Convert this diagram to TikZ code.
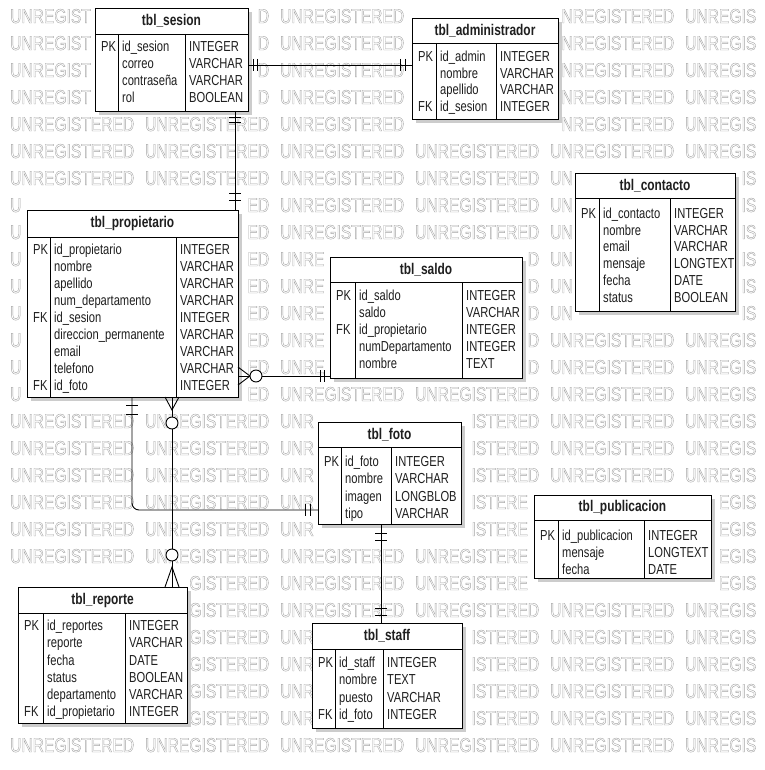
\documentclass[tikz,border=0pt]{standalone}
\usepackage{fontspec}
\setmainfont[FakeStretch=0.77]{Liberation Sans}
\newfontfamily\wmfont[FakeStretch=0.78]{Liberation Sans}
\usetikzlibrary{fit}
\definecolor{wmgray}{gray}{0.64}
\definecolor{shadowc}{gray}{0.80}
\definecolor{txt}{gray}{0.12}
% outlined (stroked) watermark glyph
\newcommand\outl[1]{\special{pdf:literal direct 1 Tr 0.4 w}#1\special{pdf:literal direct 0 Tr 0.4 w}}
% hidden-letter test against the table boxes (l/t/r/b)
\newif\ifhid
\def\chkend{\chkend}
\def\boxlist{98/11/249/112,415/21/559/120,578/176/736/312,30/213/239/398,333/260/523/379,321/425/462/525,537/498/712/579,21/590/188/724,315/626/463/729,}
\def\chkone#1/#2/#3/#4,{\ifx\chkend#1\else
  \ifdim\rx pt>#1pt \ifdim\lx pt<#3pt \ifdim\ty pt<#4pt \ifdim\bb pt>#2pt \global\hidtrue\fi\fi\fi\fi
  \expandafter\chkone\fi}
\def\chkall{\global\hidfalse\ifdim\rx pt>763pt \global\hidtrue\fi
  \expandafter\chkone\boxlist\chkend/0/0/0,}
\tikzset{
  tbox/.style={draw=black, line width=0.9pt, fill=white, inner sep=0pt, outer sep=0pt},
  ttl/.style={font=\fontsize{15.5}{16}\selectfont\bfseries, inner sep=0pt, text=txt},
  cell/.style={font=\fontsize{14.5}{15}\selectfont, inner sep=0pt, anchor=base west, text=txt},
  rel/.style={draw=black, line width=0.9pt},
  wm/.style={font=\wmfont\fontsize{20}{20}\selectfont, text=wmgray, anchor=base west, inner sep=0pt},
  ring/.style={draw=black, line width=0.9pt, fill=white},
}
% #1 name, #2 l, #3 t, #4 r, #5 b, #6 header bottom, #7 sep1, #8 sep2, #9 title
\newcommand\ertab[9]{%
  \fill[shadowc] (#2+4,#3+4) rectangle (#4+4,#5+4);
  \node[tbox, fit={(#2,#3) (#4,#5)}] (#1) {};
  \draw[line width=0.9pt] (#2,#6) -- (#4,#6) (#7,#6) -- (#7,#5) (#8,#6) -- (#8,#5);
  \node[ttl] (#1-title) at ({(#2+#4)/2},{(#3+#6)/2}) {#9};
  \def\tabname{#1}\def\cpk{#2+6}\def\cnm{#7+4}\def\cty{#8+4}%
}
% #1 y (row centre), #2 key, #3 field, #4 type
\newcommand\errow[4]{%
  \if\relax\detokenize{#2}\relax\else
    \node[cell] (\tabname-#1-k) at (\cpk,#1+5) {#2};
  \fi
  \node[cell] (\tabname-#1-n) at (\cnm,#1+5) {#3};
  \node[cell] (\tabname-#1-t) at (\cty,#1+5) {#4};
}
\newcommand\barV[2]{\draw[rel] (#1) ++(#2) ++(0,-6) -- ++(0,12);}
\newcommand\barH[2]{\draw[rel] (#1) ++(#2) ++(-6,0) -- ++(12,0);}
\begin{document}
\begin{tikzpicture}[x=1pt,y=-1pt]
\useasboundingbox (0,0) rectangle (764,770);
% watermark, letter by letter, only where not covered by a table
\foreach \k in {0,...,27} {
  \pgfmathsetmacro\by{23+27*\k}
  \pgfmathsetmacro\bb{\by+3}
  \pgfmathsetmacro\ty{\by-14.5}
  \foreach \j in {0,...,5} {
    \foreach \ch/\off/\w [count=\i] in {U/0/11.26, N/11.26/11.26, R/22.53/11.26, E/33.79/10.41, G/44.19/12.14, I/56.33/4.34, S/60.67/10.41, T/71.07/9.53, E/80.61/10.41, R/91.01/11.26, E/102.27/10.41, D/112.68/11.26} {
      \pgfmathsetmacro\lx{10+135*\j+\off}
      \pgfmathsetmacro\rx{\lx+\w}
      \chkall
      \ifhid\else \node[wm] (w\k-\j-\i) at (\lx,\by) {\outl{\ch}}; \fi
    }
  }
}

% tbl_sesion
\ertab{sesion}{95}{8}{248}{111}{34}{118}{185}{tbl\_sesion}
\errow{47}{PK}{id\_sesion}{INTEGER}
\errow{64}{}{correo}{VARCHAR}
\errow{81}{}{contraseña}{VARCHAR}
\errow{98}{}{rol}{BOOLEAN}

% tbl_administrador
\ertab{admin}{412}{18}{558}{119}{43}{436}{496}{tbl\_administrador}
\errow{57}{PK}{id\_admin}{INTEGER}
\errow{73.5}{}{nombre}{VARCHAR}
\errow{90}{}{apellido}{VARCHAR}
\errow{106.5}{FK}{id\_sesion}{INTEGER}

% tbl_contacto
\ertab{contacto}{575}{173}{735}{311}{198}{599}{670}{tbl\_contacto}
\errow{213}{PK}{id\_contacto}{INTEGER}
\errow{230}{}{nombre}{VARCHAR}
\errow{246.5}{}{email}{VARCHAR}
\errow{263}{}{mensaje}{LONGTEXT}
\errow{280}{}{fecha}{DATE}
\errow{297}{}{status}{BOOLEAN}

% tbl_propietario
\ertab{prop}{27}{210}{238}{397}{237}{50}{176}{tbl\_propietario}
\errow{249}{PK}{id\_propietario}{INTEGER}
\errow{266}{}{nombre}{VARCHAR}
\errow{283}{}{apellido}{VARCHAR}
\errow{300}{}{num\_departamento}{VARCHAR}
\errow{317}{FK}{id\_sesion}{INTEGER}
\errow{334}{}{direccion\_permanente}{VARCHAR}
\errow{351}{}{email}{VARCHAR}
\errow{368}{}{telefono}{VARCHAR}
\errow{385}{FK}{id\_foto}{INTEGER}

% tbl_saldo
\ertab{saldo}{330}{257}{522}{378}{282}{355}{462}{tbl\_saldo}
\errow{295}{PK}{id\_saldo}{INTEGER}
\errow{312}{}{saldo}{VARCHAR}
\errow{329}{FK}{id\_propietario}{INTEGER}
\errow{346}{}{numDepartamento}{INTEGER}
\errow{363}{}{nombre}{TEXT}

% tbl_foto
\ertab{foto}{318}{422}{461}{524}{447}{341}{391}{tbl\_foto}
\errow{461}{PK}{id\_foto}{INTEGER}
\errow{478.5}{}{nombre}{VARCHAR}
\errow{496}{}{imagen}{LONGBLOB}
\errow{513}{}{tipo}{VARCHAR}

% tbl_publicacion
\ertab{publicacion}{534}{495}{711}{578}{520}{558}{644}{tbl\_publicacion}
\errow{535}{PK}{id\_publicacion}{INTEGER}
\errow{552}{}{mensaje}{LONGTEXT}
\errow{569}{}{fecha}{DATE}

% tbl_reporte
\ertab{reporte}{18}{587}{187}{723}{613}{43}{125}{tbl\_reporte}
\errow{625}{PK}{id\_reportes}{INTEGER}
\errow{642.5}{}{reporte}{VARCHAR}
\errow{660}{}{fecha}{DATE}
\errow{677}{}{status}{BOOLEAN}
\errow{694}{}{departamento}{VARCHAR}
\errow{711}{FK}{id\_propietario}{INTEGER}

% tbl_staff
\ertab{staff}{312}{623}{462}{728}{649}{335}{383}{tbl\_staff}
\errow{662}{PK}{id\_staff}{INTEGER}
\errow{679.5}{}{nombre}{TEXT}
\errow{697}{}{puesto}{VARCHAR}
\errow{714}{FK}{id\_foto}{INTEGER}

% ---- relationships ----
% sesion -- administrador
\coordinate (s1) at (sesion.east |- 0,65);
\coordinate (s2) at (admin.west |- 0,65);
\draw[rel] (s1) -- (s2);
\barV{s1}{5,0} \barV{s1}{9,0}
\barV{s2}{-7,0} \barV{s2}{-12,0}

% sesion -- propietario
\coordinate (p1) at (sesion.south -| 235,0);
\coordinate (p2) at (prop.north -| 235,0);
\draw[rel] (p1) -- (p2);
\barH{p1}{0,6} \barH{p1}{0,11}
\barH{p2}{0,-10} \barH{p2}{0,-17}

% propietario -- saldo
\coordinate (q1) at (prop.east |- 0,376);
\coordinate (q2) at (saldo.west |- 0,376);
\draw[rel] (q1) -- (q2);
\draw[rel] (q1) ++(0,-9) -- ++(12,9) -- ++(-12,9);
\draw[ring] (q1) ++(18,0) circle[radius=6];
\barV{q2}{-6,0} \barV{q2}{-10,0}

% propietario -- reporte
\coordinate (t1) at (prop.south -| 172,0);
\coordinate (t2) at (reporte.north -| 172,0);
\draw[rel] (t1) -- (t2);
\draw[rel] (t1) ++(-7,0) -- ++(7,13) -- ++(7,-13);
\draw[ring] (t1) ++(0,26) circle[radius=6];
\draw[rel] (t2) ++(-7,0) -- ++(7,-20) -- ++(7,20);
\draw[ring] (t2) ++(0,-32) circle[radius=6];

% propietario -- foto
\coordinate (u1) at (prop.south -| 132,0);
\coordinate (u2) at (foto.west |- 0,510);
\draw[rel, rounded corners=7pt] (u1) |- (u2);
\barH{u1}{0,8} \barH{u1}{0,17}
\barV{u2}{-8,0} \barV{u2}{-13,0}

% foto -- staff
\coordinate (v1) at (foto.south -| 381,0);
\coordinate (v2) at (staff.north -| 381,0);
\draw[rel] (v1) -- (v2);
\barH{v1}{0,9} \barH{v1}{0,16}
\barH{v2}{0,-8} \barH{v2}{0,-15}
\end{tikzpicture}
\end{document}
